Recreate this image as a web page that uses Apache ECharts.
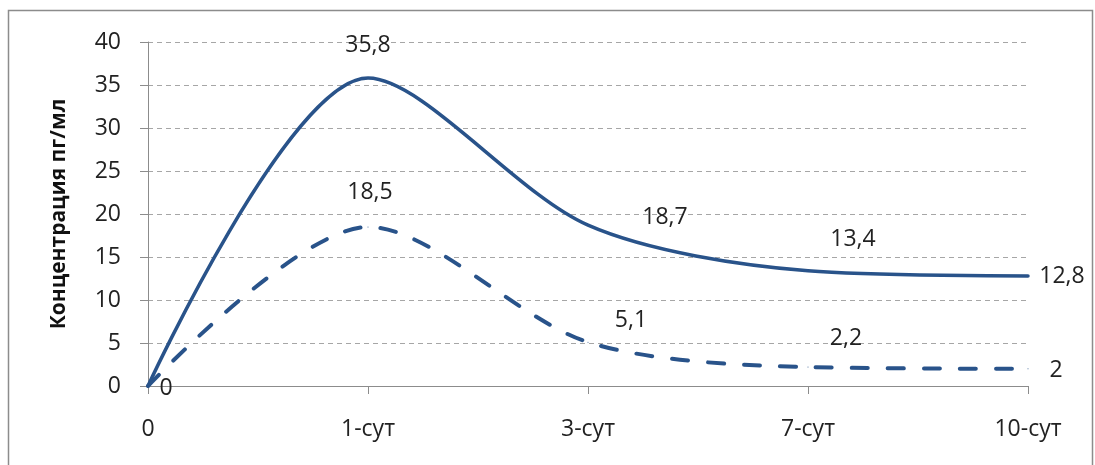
<!DOCTYPE html>
<html>
<head>
<meta charset="utf-8">
<script src="https://cdn.jsdelivr.net/npm/echarts@6/dist/echarts.min.js"></script>
<style>
  html, body { margin: 0; padding: 0; background: #fff; }
  #chart { width: 1095px; height: 465px; }
</style>
</head>
<body>
<div id="chart"></div>
<script>
// данные графика
const categories = ["0", "1-сут", "3-сут", "7-сут", "10-сут"];
const solidValues = [0, 35.8, 18.7, 13.4, 12.8];
const dashedValues = [0, 18.5, 5.1, 2.2, 2];
const solidLabels = ["", "35,8", "18,7", "13,4", "12,8"];
const dashedLabels = ["0", "18,5", "5,1", "2,2", "2"];

// смещения подписей (как в исходнике Excel)
const solidOffsets = [[0, 0], [0, -33], [77, -8], [45, -31], [34, 1]];
const dashedOffsets = [[18, 2], [2, -34], [43, -22], [38, -29], [28, 2]];

const lineColor = "#29538a";
const fontFamily = "'Open Sans', 'Noto Sans', sans-serif";
const fontSize = 23;

function buildData(values, labels, offsets) {
  return values.map((v, i) => ({
    value: v,
    label: {
      show: labels[i] !== "",
      formatter: labels[i],
      position: "inside",
      offset: offsets[i],
    },
  }));
}

const chart = echarts.init(document.getElementById("chart"));

const option = {
  animation: false,
  graphic: [
    {
      type: "rect",
      shape: { x: 8.5, y: 10.5, width: 1084, height: 470 },
      style: { fill: "none", stroke: "#8c8c8c", lineWidth: 1.5 },
      silent: true,
    },
  ],
  grid: { left: 148, right: 67, top: 42, bottom: 79 },
  xAxis: {
    type: "category",
    data: categories,
    boundaryGap: false,
    axisLine: { lineStyle: { color: "#8c8c8c", width: 1 } },
    axisTick: { show: true, length: 8, inside: false, lineStyle: { color: "#8c8c8c" } },
    axisLabel: { color: "#222", fontSize: fontSize, fontFamily: fontFamily, margin: 32 },
    splitLine: { show: false },
  },
  yAxis: {
    type: "value",
    min: 0,
    max: 40,
    interval: 5,
    name: "Концентрация пг/мл",
    nameLocation: "middle",
    nameGap: 78,
    nameTextStyle: { color: "#111", fontSize: 21, fontWeight: "bold", fontFamily: fontFamily },
    axisLine: { show: true, lineStyle: { color: "#8c8c8c", width: 1 } },
    axisTick: { show: true, length: 8, lineStyle: { color: "#8c8c8c" } },
    axisLabel: { color: "#222", fontSize: fontSize, fontFamily: fontFamily, margin: 27 },
    splitLine: { show: true, lineStyle: { color: "#a6a6a6", type: [5, 4], width: 1 } },
  },
  series: [
    {
      type: "line",
      data: buildData(solidValues, solidLabels, solidOffsets),
      smooth: 0.3,
      showSymbol: true,
      symbol: "circle",
      symbolSize: 1,
      lineStyle: { color: lineColor, width: 3.5, cap: "round" },
      itemStyle: { color: lineColor },
      label: { color: "#222", fontSize: fontSize, fontFamily: fontFamily },
    },
    {
      type: "line",
      data: buildData(dashedValues, dashedLabels, dashedOffsets),
      smooth: 0.3,
      showSymbol: true,
      symbol: "circle",
      symbolSize: 1,
      lineStyle: { color: lineColor, width: 4, type: [16, 20], cap: "round" },
      itemStyle: { color: lineColor },
      label: { color: "#222", fontSize: fontSize, fontFamily: fontFamily },
    },
  ],
};

chart.setOption(option);
</script>
</body>
</html>
